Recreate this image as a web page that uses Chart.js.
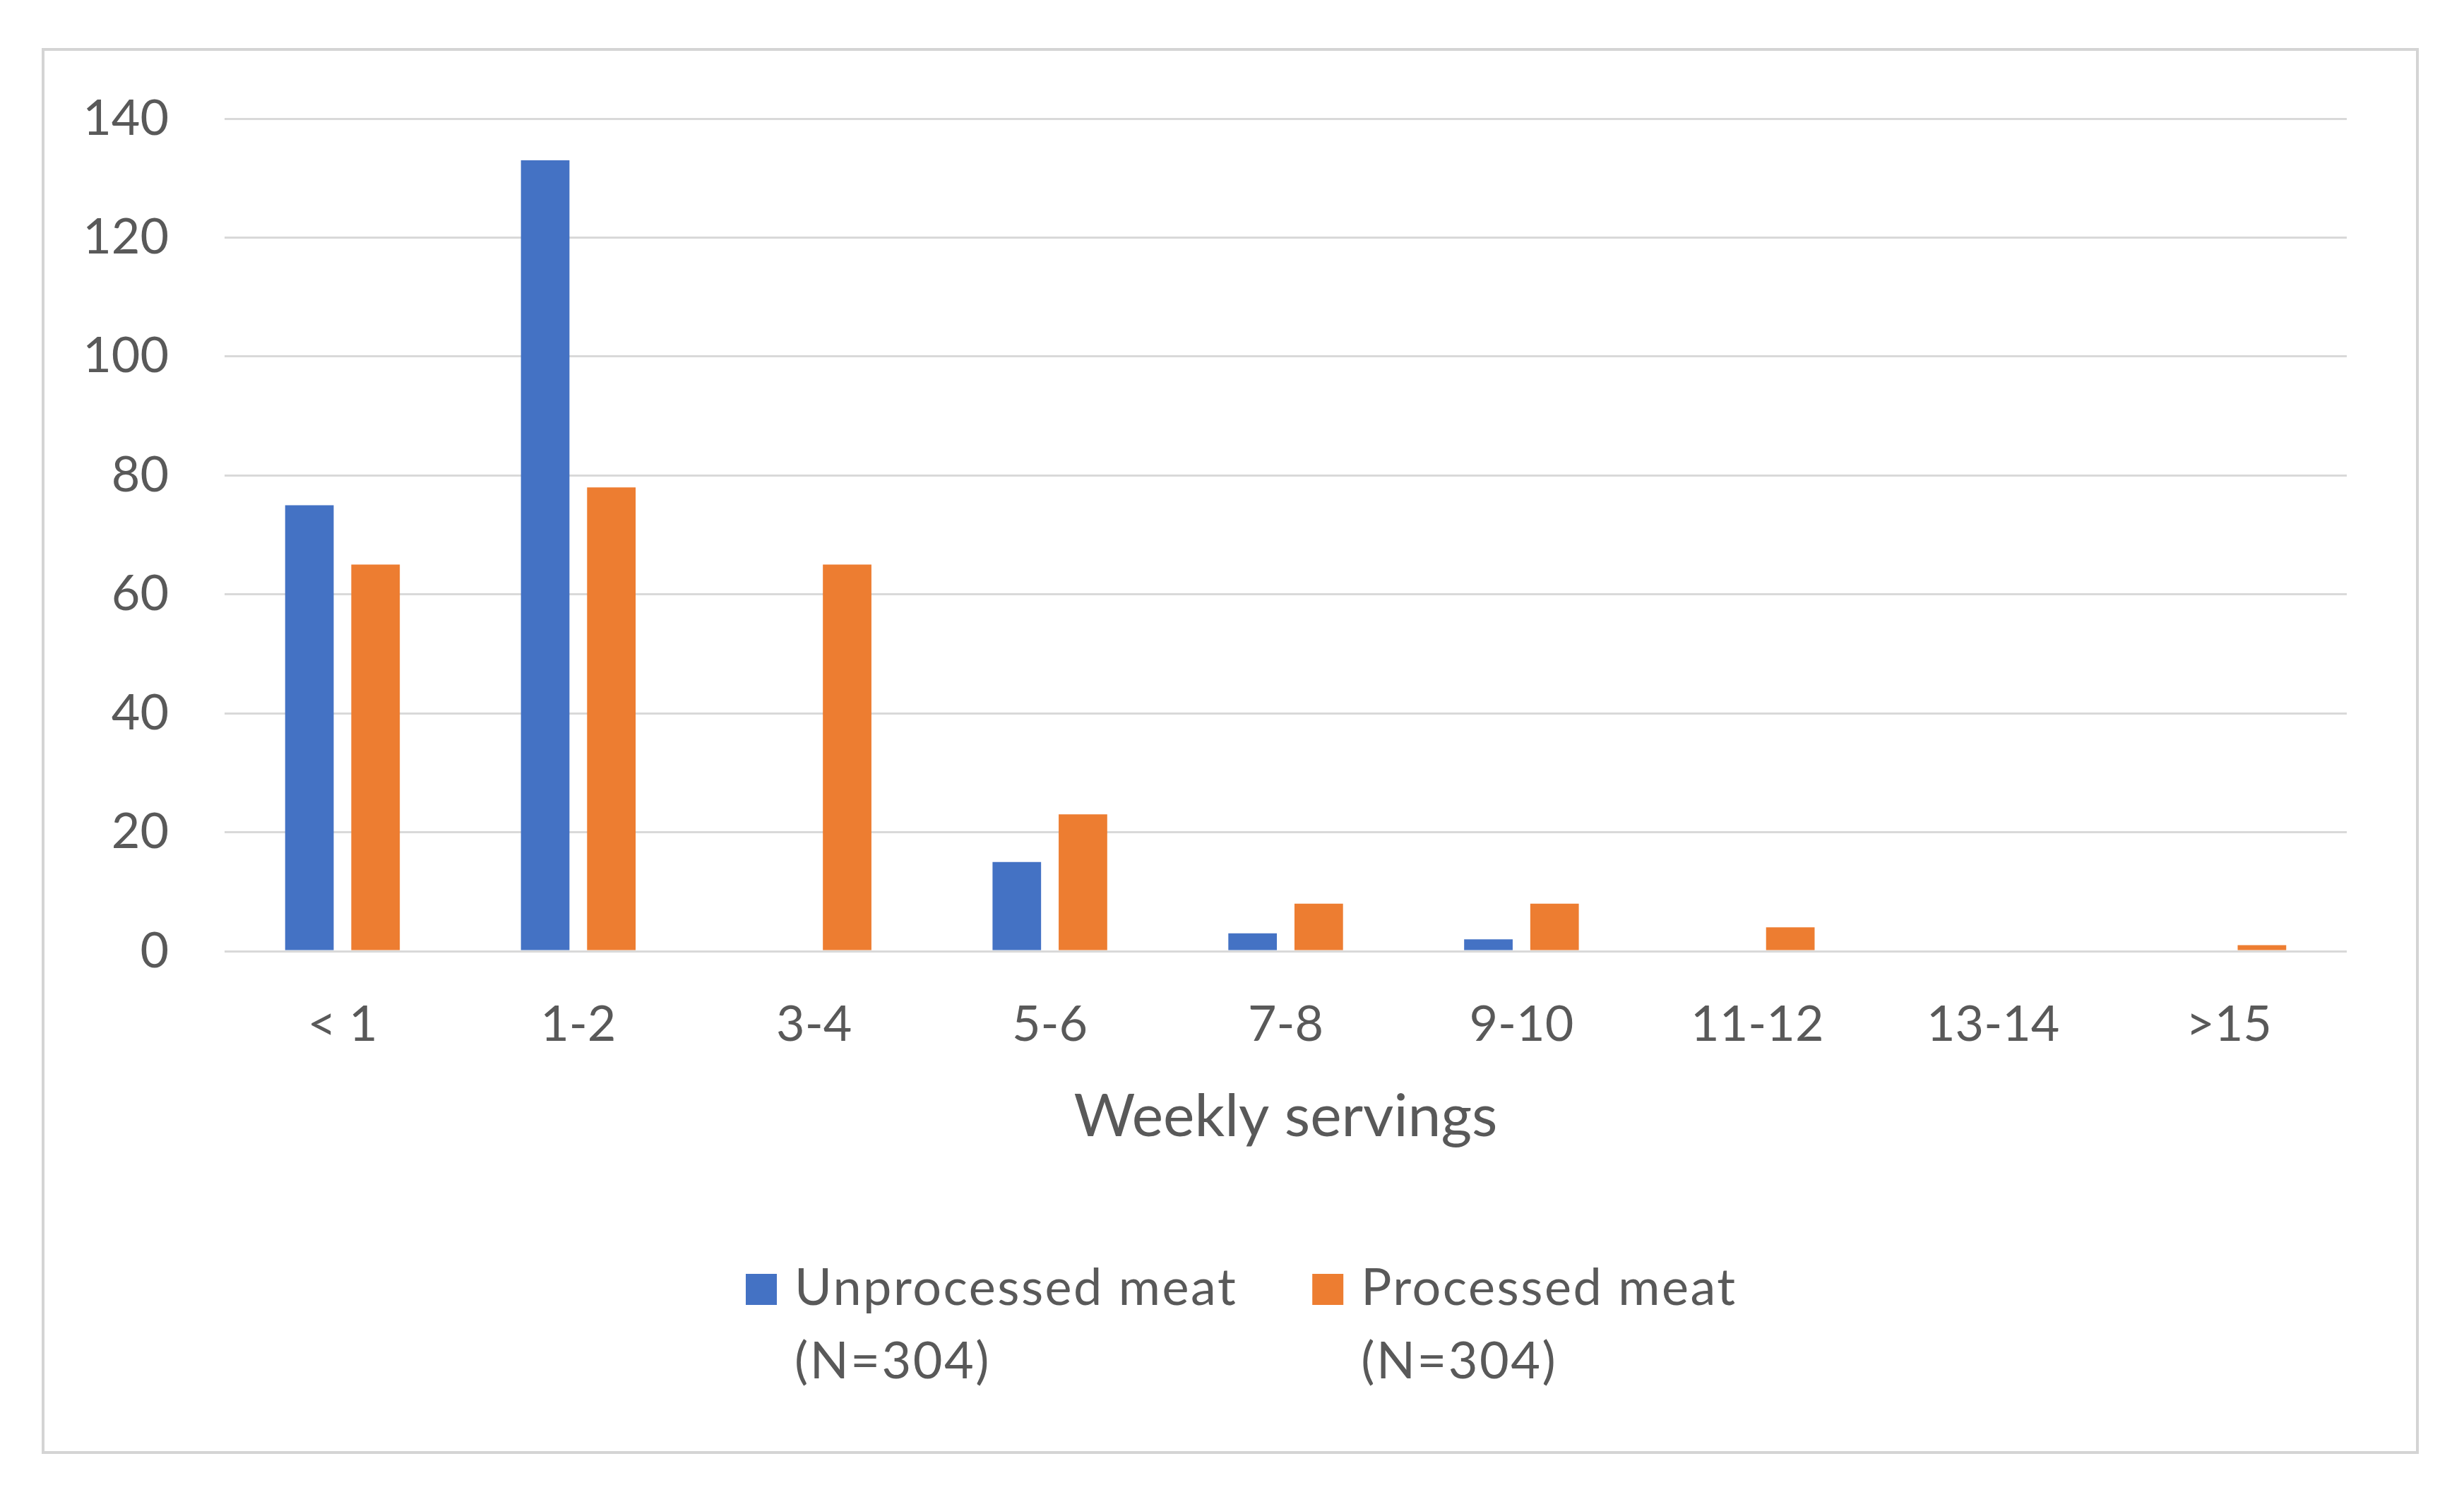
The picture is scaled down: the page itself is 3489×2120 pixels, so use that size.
<!DOCTYPE html>
<html>
<head>
<meta charset="utf-8">
<script src="https://cdn.jsdelivr.net/npm/chart.js@4/dist/chart.umd.min.js"></script>
<style>
html,body{margin:0;padding:0;background:#ffffff;}
canvas{display:block;}
</style>
</head>
<body>
<canvas id="c" width="3489" height="2120" style="width:3489px;height:2120px"></canvas>
<script>
// ---- data ----
const categories = ['< 1', '1-2', '3-4', '5-6', '7-8', '9-10', '11-12', '13-14', '>15'];
const unprocessedMeat = [75, 133, 0, 15, 3, 2, 0, 0, 0];
const processedMeat = [65, 78, 65, 23, 8, 8, 4, 0, 1];
const seriesNames = [['Unprocessed meat', '(N=304)'], ['Processed meat', '(N=304)']];
const yTickValues = [0, 20, 40, 60, 80, 100, 120, 140];
const xAxisTitle = 'Weekly servings';

// ---- styles ----
const FONT = 'Lato';
const TEXT = '#595959';
const BLUE = '#4472C4';
const ORANGE = '#ED7D31';
const GRID = '#D9D9D9';

const framePlugin = {
  id: 'frame',
  beforeDraw(chart) {
    const ctx = chart.ctx;
    ctx.save();
    ctx.fillStyle = '#ffffff';
    ctx.fillRect(0, 0, chart.width, chart.height);
    ctx.strokeStyle = '#D4D4D4';
    ctx.lineWidth = 4;
    ctx.strokeRect(61, 70, 3362, 1987);
    ctx.restore();
  }
};

const legendPlugin = {
  id: 'multiLineLegend',
  afterDraw(chart) {
    const ctx = chart.ctx;
    ctx.save();
    ctx.font = '72px ' + FONT;
    if ('letterSpacing' in ctx) ctx.letterSpacing = '2.5px';
    const items = chart.data.datasets.map(ds => ({
      lines: ds.label,
      color: ds.backgroundColor,
      w: Math.max(...ds.label.map(l => ctx.measureText(l).width))
    }));
    const box = 44, gapBox = 25, gapItem = 106;
    let x = 1056;
    const baseline = 1848, lineStep = 104;
    items.forEach(it => {
      ctx.fillStyle = it.color;
      ctx.fillRect(x, 1804, box, 44);
      ctx.fillStyle = TEXT;
      ctx.textAlign = 'left';
      ctx.textBaseline = 'alphabetic';
      it.lines.forEach((l, i) => ctx.fillText(l, x + box + gapBox, baseline + i * lineStep));
      x += box + gapBox + it.w + gapItem;
    });
    ctx.restore();
  }
};

function build() {
  new Chart(document.getElementById('c'), {
    type: 'bar',
    data: {
      labels: categories,
      datasets: [
        { label: seriesNames[0], data: unprocessedMeat, backgroundColor: BLUE, borderWidth: 0 },
        { label: seriesNames[1], data: processedMeat, backgroundColor: ORANGE, borderWidth: 0 }
      ]
    },
    options: {
      responsive: false,
      animation: false,
      devicePixelRatio: 1,
      categoryPercentage: 0.561,
      barPercentage: 0.734,
      layout: { padding: { left: 0, right: 166, top: 168, bottom: 488 } },
      plugins: {
        legend: { display: false },
        tooltip: { enabled: false },
        title: { display: false }
      },
      scales: {
        x: {
          grid: { display: false, drawTicks: false },
          border: { display: false },
          ticks: { color: TEXT, font: { family: FONT, size: 70 }, padding: 62, maxRotation: 0, autoSkip: false },
          title: { display: true, text: xAxisTitle, color: TEXT, font: { family: FONT, size: 84 }, padding: { top: 38, bottom: 0 } },
          afterFit(s) { s.height = 285; }
        },
        y: {
          min: 0,
          max: 140,
          grid: { color: GRID, lineWidth: 3, drawTicks: false },
          border: { display: false },
          afterBuildTicks(s) { s.ticks = yTickValues.map(v => ({ value: v })); },
          ticks: { color: TEXT, font: { family: FONT, size: 70 }, padding: 79 },
          afterFit(s) { s.width = 318; }
        }
      }
    },
    plugins: [framePlugin, legendPlugin]
  });
}

if (document.fonts && document.fonts.load) {
  Promise.all([document.fonts.load('70px ' + FONT), document.fonts.load('84px ' + FONT)]).then(build, build);
} else {
  build();
}
</script>
</body>
</html>
